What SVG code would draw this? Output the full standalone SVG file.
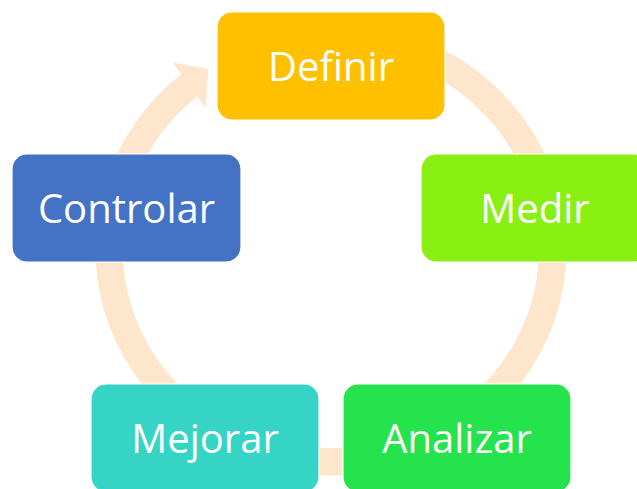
<svg xmlns="http://www.w3.org/2000/svg" width="637" height="489" viewBox="0 0 637 489">
<style>
.node rect{stroke:#ffffff;stroke-width:1.2}
.node text{font-family:"Open Sans","Noto Sans",sans-serif;font-size:40px;fill:#ffffff;text-anchor:middle}
.ring{fill:none;stroke:#FEE6CD;stroke-width:27.5}
.head{fill:#FEE6CD}
</style>
<rect width="637" height="489" fill="#ffffff"/>
<g id="connectors">
<path class="ring" d="M350,36.8 A222,213 0 0,1 331,462 A222,213 0 0,1 189.8,84.7"/>
<polygon class="head" points="172.5,62.5 208.5,69 205.5,107.5"/>
</g>
<g id="node-definir" class="node">
<rect x="217" y="12" width="228" height="108" rx="15" fill="#FFC000"/>
<text x="331" y="80.5">Definir</text>
</g>
<g id="node-medir" class="node">
<rect x="421" y="154" width="228" height="108" rx="15" fill="#8AF014"/>
<text x="535" y="222.5">Medir</text>
</g>
<g id="node-analizar" class="node">
<rect x="343" y="384" width="228" height="108" rx="15" fill="#24E34C"/>
<text x="457" y="452.5">Analizar</text>
</g>
<g id="node-mejorar" class="node">
<rect x="91" y="384" width="228" height="108" rx="15" fill="#36D4C5"/>
<text x="205" y="452.5">Mejorar</text>
</g>
<g id="node-controlar" class="node">
<rect x="12" y="154" width="229" height="108" rx="15" fill="#4472C4"/>
<text x="126.5" y="222.5">Controlar</text>
</g>
</svg>
